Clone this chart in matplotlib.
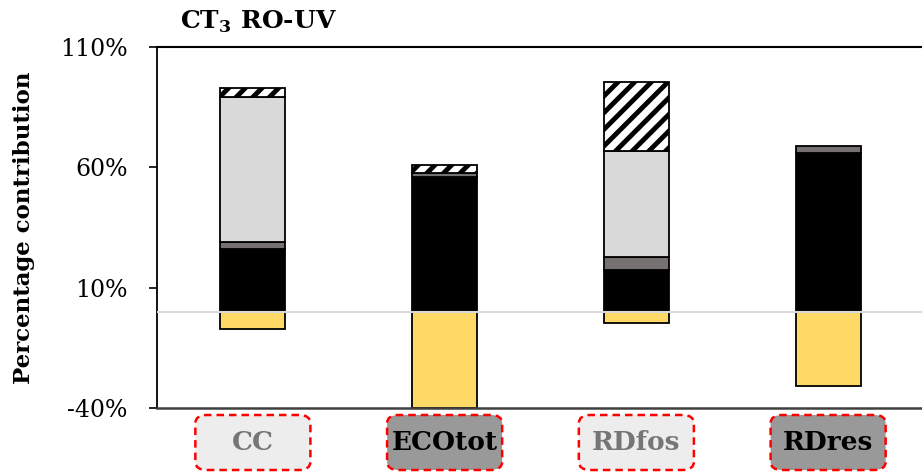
import matplotlib
matplotlib.use("Agg")
import matplotlib.pyplot as plt
from matplotlib.patches import FancyBboxPatch
from matplotlib.transforms import blended_transform_factory
import numpy as np

plt.rcParams['font.family'] = ['DejaVu Serif']
plt.rcParams['mathtext.fontset'] = 'custom'
plt.rcParams['mathtext.bf'] = 'DejaVu Serif:bold'
plt.rcParams['mathtext.rm'] = 'DejaVu Serif'
plt.rcParams['hatch.linewidth'] = 3.5

categories = ['CC', 'ECOtot', 'RDfos', 'RDres']
neg_yellow = [-7.0, -40.0, -4.5, -31.0]
seg_black = [26.0, 56.0, 17.5, 66.0]
seg_darkgray = [3.0, 1.5, 5.2, 2.8]
seg_lightgray = [60.2, 0.0, 44.0, 0.0]
seg_hatch = [3.7, 3.3, 28.6, 0.0]
yticks = [-40, 10, 60, 110]
ytick_labels = ['-40%', '10%', '60%', '110%']

label_fill = ['#EDEDED', '#999999', '#EDEDED', '#999999']
label_text = ['#767676', '#000000', '#767676', '#000000']

W, H = 922, 475
fig = plt.figure(figsize=(W / 100, H / 100), dpi=100)
ax_left, ax_right, ax_top, ax_bot = 157, 924, 47, 408
ax = fig.add_axes([ax_left / W, 1 - ax_bot / H, (ax_right - ax_left) / W, (ax_bot - ax_top) / H])

x = np.arange(len(categories))
bw = 0.34
edge = dict(edgecolor='black', linewidth=1.3)

ax.bar(x, neg_yellow, bw, color='#FFD966', zorder=2, **edge)
b0 = np.zeros(len(x))
ax.bar(x, seg_black, bw, bottom=b0, color='black', zorder=2, **edge)
b1 = b0 + np.array(seg_black)
ax.bar(x, seg_darkgray, bw, bottom=b1, color='#767171', zorder=2, **edge)
b2 = b1 + np.array(seg_darkgray)
lg = np.array(seg_lightgray)
ax.bar(x[lg > 0], lg[lg > 0], bw, bottom=b2[lg > 0], color='#D9D9D9', zorder=2, **edge)
b3 = b2 + lg
hh = np.array(seg_hatch)
ax.bar(x[hh > 0], hh[hh > 0], bw, bottom=b3[hh > 0], color='white', hatch='//', zorder=2, **edge)

ax.axhline(0, color='#D9D9D9', linewidth=1.5, zorder=3)

ax.set_xlim(-0.5, 3.5)
ax.set_ylim(-40, 110)
ax.set_yticks(yticks)
ax.set_yticklabels(ytick_labels, fontsize=17)
ax.set_xticks([])
ax.tick_params(axis='y', direction='out', length=6, width=1.2, pad=15)
ax.spines['right'].set_visible(False)
ax.spines['left'].set_linewidth(1.3)
ax.spines['top'].set_linewidth(1.5)
ax.spines['bottom'].set_linewidth(1.8)
ax.spines['bottom'].set_color('#404040')

ax.set_ylabel('Percentage contribution', fontsize=16.5, fontweight='bold')
ax.yaxis.set_label_coords((35 - ax_left) / (ax_right - ax_left), 0.5)

fig.text(180 / W, 1 - 22 / H, r'CT$_\mathbf{3}$ RO-UV', fontsize=18, fontweight='bold',
         ha='left', va='center')

tr = blended_transform_factory(ax.transData, fig.transFigure)
box_w = 0.6
box_y0 = 1 - 470 / H
box_h = 55 / H
for i, cat in enumerate(categories):
    p = FancyBboxPatch((x[i] - box_w / 2, box_y0), box_w, box_h,
                       boxstyle='round,pad=0,rounding_size=0.06',
                       transform=tr, facecolor=label_fill[i], edgecolor='red',
                       linewidth=1.8, linestyle=(0, (3, 2)), clip_on=False,
                       mutation_aspect=box_h / box_w * 1.5, zorder=1)
    ax.add_artist(p)
    ax.text(x[i], box_y0 + box_h / 2, cat, transform=tr, ha='center', va='center',
            fontsize=19, fontweight='bold', color=label_text[i], clip_on=False, zorder=5)

fig.savefig('out.png', dpi=100)
